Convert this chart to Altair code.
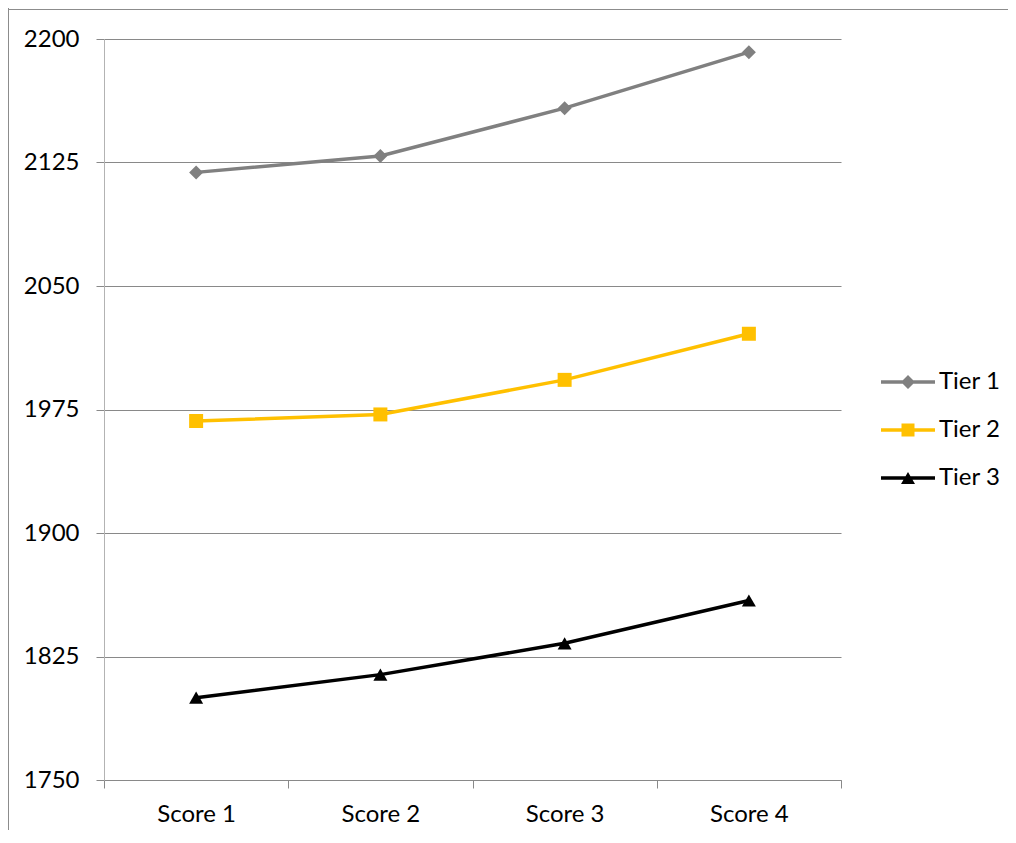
import altair as alt
import pandas as pd

scores = ["Score 1", "Score 2", "Score 3", "Score 4"]
tiers = ["Tier 1", "Tier 2", "Tier 3"]
tier1 = [2119, 2129, 2158, 2192]
tier2 = [1968, 1972, 1993, 2021]
tier3 = [1800, 1814, 1833, 1859]
y_ticks = [1750, 1825, 1900, 1975, 2050, 2125, 2200]
colors = ["#808080", "#FFC000", "#000000"]
marker_shapes = ["diamond", "square", "triangle-up"]

# legend symbols: line + marker (custom paths)
bar = "M-5.4,-0.33H5.4V0.33H-5.4Z"
legend_shapes = [
    bar + "M0,-1.4L1.4,0L0,1.4L-1.4,0Z",
    bar + "M-1.3,-1.3H1.3V1.3H-1.3Z",
    bar + "M0,-1.2L1.4,1.2L-1.4,1.2Z",
]

rows = []
for t, vals in zip(tiers, [tier1, tier2, tier3]):
    for s, v in zip(scores, vals):
        rows.append({"tier": t, "score": s, "value": v})
df = pd.DataFrame(rows)

W, H = 737, 741
FONT = "Lato"

x_enc = alt.X(
    "score:N",
    sort=scores,
    scale=alt.Scale(paddingInner=0, paddingOuter=0),
    axis=alt.Axis(
        title=None, labelAngle=0, grid=False, tickBand="extent",
        domainColor="#898989", tickColor="#898989", tickSize=8,
        labelFont=FONT, labelFontSize=24, labelColor="#000000",
        labelPadding=14,
    ),
)
y_enc = alt.Y(
    "value:Q",
    scale=alt.Scale(domain=[1750, 2200], nice=False, zero=False),
    axis=alt.Axis(
        title=None, values=y_ticks, format="d", grid=True, gridColor="#898989",
        domainColor="#b3b3b3", tickColor="#898989", tickSize=8,
        labelFont=FONT, labelFontSize=24, labelColor="#000000",
        labelPadding=17,
    ),
)
color_scale = alt.Scale(domain=tiers, range=colors)

legend_props = dict(
    title=None, orient="none", legendX=792, legendY=331,
    labelFont=FONT, labelFontSize=24, labelFontWeight="normal",
    labelColor="#000000", symbolSize=100, labelOffset=19,
    rowPadding=24, padding=0, labelLimit=200,
)

one = pd.DataFrame({"a": [0]})
border_left = alt.Chart(one).mark_rule(color="#8c8c8c", strokeWidth=1, clip=False).encode(
    x=alt.value(-95.5), y=alt.value(-31), y2=alt.value(H + 50)
)
border_top = alt.Chart(one).mark_rule(color="#8c8c8c", strokeWidth=1, clip=False).encode(
    x=alt.value(-96), x2=alt.value(W + 170), y=alt.value(-29.5)
)

hidden = alt.Chart(df).mark_point(filled=True, size=1, opacity=1).encode(
    x=x_enc, y=y_enc,
    color=alt.Color("tier:N", scale=alt.Scale(domain=tiers, range=colors),
                    legend=alt.Legend(**legend_props)),
    shape=alt.Shape("tier:N", scale=alt.Scale(domain=tiers, range=legend_shapes),
                    legend=alt.Legend(**legend_props)),
)

lines = alt.Chart(df).mark_line(strokeWidth=3.5).encode(
    x=x_enc, y=y_enc,
    color=alt.Color("tier:N", scale=color_scale, legend=None),
    detail="tier:N",
)

points = alt.Chart(df).mark_point(filled=True, size=196, opacity=1).encode(
    x=x_enc, y=y_enc,
    color=alt.Color("tier:N", scale=color_scale, legend=None),
    shape=alt.Shape("tier:N", scale=alt.Scale(domain=tiers, range=marker_shapes), legend=None),
)

chart = alt.layer(border_left, border_top, hidden, lines, points).resolve_scale(
    shape="independent", color="independent"
).properties(
    width=W, height=H,
    autosize=alt.AutoSizeParams(type="none"),
    padding={"left": 96, "top": 31, "right": 167, "bottom": 50},
).configure_view(stroke=None)

chart.save("out.html", embed_options={"renderer": "svg", "actions": False})
